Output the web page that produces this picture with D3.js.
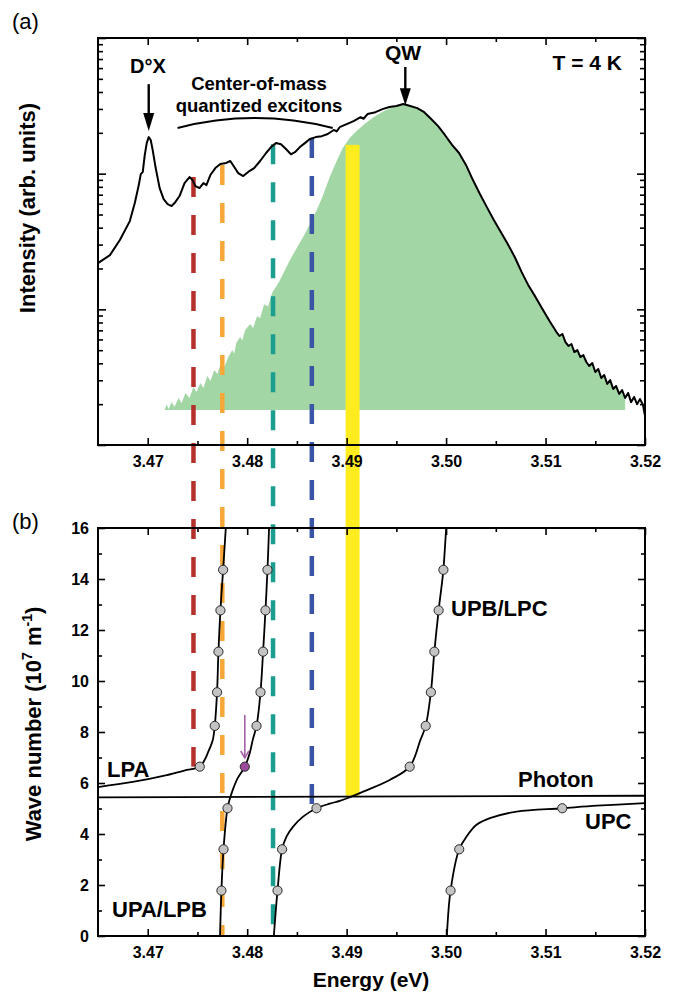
<!DOCTYPE html>
<html><head><meta charset="utf-8">
<script src="https://cdn.jsdelivr.net/npm/d3@7"></script>
<style>
body{margin:0;background:#fff}
text{font-family:"Liberation Sans",Arial,Helvetica,sans-serif}
</style></head>
<body><svg id="c" width="679" height="1003"></svg>
<script>
// ---------------- DATA ----------------
const energyTicks = [3.47, 3.48, 3.49, 3.50, 3.51, 3.52];
const energyMinor = [3.475, 3.485, 3.495, 3.505, 3.515];
const waveTicks = [0, 2, 4, 6, 8, 10, 12, 14, 16];
const waveMinor = [1, 3, 5, 7, 9, 11, 13, 15];

// (a) PL spectrum, intensity in arb. units (log axis)
const specE = [3.4650,3.4662,3.4672,3.4682,3.4687,3.4691,3.4693,3.4695,3.4697,3.4699,3.4701,3.4703,3.4705,3.4708,3.4712,3.4716,3.4720,3.4724,3.4727,3.4732,3.4737,3.4742,3.4745,3.4748,3.4752,3.4756,3.4759,3.4763,3.4768,3.4773,3.4779,3.4783,3.4787,3.4791,3.4796,3.4801,3.4807,3.4813,3.4819,3.4824,3.4829,3.4834,3.4839,3.4844,3.4848,3.4853,3.4858,3.4863,3.4869,3.4875,3.4881,3.4887,3.4890,3.4893,3.4900,3.4907,3.4914,3.4917,3.4921,3.4929,3.4936,3.4943,3.4950,3.4957,3.4964,3.4971,3.4978,3.4985,3.4992,3.4999,3.5006,3.5013,3.5020,3.5027,3.5034,3.5041,3.5048,3.5055,3.5062,3.5069,3.5076,3.5083,3.5090,3.5097,3.5104,
3.5111,3.5114,3.5117,3.5120,3.5123,3.5126,3.5129,3.5132,3.5135,3.5138,3.5141,3.5144,3.5147,3.5150,3.5153,3.5156,3.5159,3.5162,3.5165,3.5168,3.5171,3.5174,3.5177,3.5180,3.5183,3.5186,3.5189,3.5192,3.5195,3.5198,3.5200];
const specI = [21.9,25.1,32.4,44.7,60.7,82.4,99.3,102.8,137,168,186,177,149,110,78.3,65.0,59.7,57.7,60.7,68.4,85.3,94.4,89.7,81.0,78.3,85.3,82.4,97.7,110,118,120,124,112,101,96,103,110,124,142,157,168,165,152,139,144,157,168,180,186,189,196,210,205,220,232,244,261,254,275,284,299,310,315,326,315,304,284,253,224,192,163,142,116,89.7,70.8,56.7,45.5,37.1,30.3,24.3,18.8,14.9,12.3,10.0,8.20,
6.80,6.36,6.58,5.74,5.37,5.55,4.84,5.01,4.45,4.60,4.09,3.82,4.02,3.45,3.63,3.12,3.28,2.82,3.01,2.59,2.72,2.38,2.54,2.22,2.42,2.07,2.26,2.00,2.18,1.97,1.64];

// QW component (green), rising edge; the falling side follows the spectrum
const qwE = [3.4717,3.4719,3.4721,3.4724,3.4727,3.4731,3.4734,3.4738,3.4742,3.4746,3.4749,3.4753,3.4756,3.4760,3.4763,3.4767,3.4770,3.4774,3.4777,3.4781,3.4785,3.4787,3.4789,3.4793,3.4795,3.4798,3.4803,3.4806,3.4810,3.4813,3.4817,3.4821,3.4825,3.4832,3.4838,3.4843,3.4851,3.4858,3.4864,3.4870,3.4876,3.4883,3.4890,3.4896,3.4903,3.4910,3.4918,3.4927,3.4937,3.4947];
const qwI = [1.81,2.00,1.84,2.07,1.91,2.22,2.04,2.42,2.22,2.68,2.46,2.86,2.63,3.22,2.96,3.57,3.34,4.09,3.76,4.45,5.01,4.70,5.64,6.25,5.90,7.04,7.79,7.30,8.93,8.60,10.9,10.5,13.2,15.9,19.5,23.1,29.3,35.9,44.0,53.9,68.4,94.4,124,154,183,206,232,261,289,310];
const qwBase = 1.81;
const qwEnd = 3.5180;

// vertical markers: energy, top intensity, bottom wave number
const markE   = [3.4746, 3.4775, 3.4826, 3.4865];
const markTop = [94.4, 116, 165, 183];
const markBot = [6.64, 0, 0, 5.01];
const markCol = ["#b5302b", "#f7a738", "#1b9d8f", "#3a55a6"];
const barE = [3.4899, 3.4913];   // yellow band
const barTop = 163, barBot = 5.5;

// (b) dispersion branches (energy eV, wave number 1e7 m^-1)
const photonE = [3.465, 3.52];
const photonK = [5.44, 5.50];
const lpaE = [3.4650,3.46849,3.47191,3.47392,3.47523,3.47573,3.47604,3.47654,3.47674,3.47697,3.47711,3.47731,3.47758,3.47785];
const lpaK = [5.84,6.04,6.31,6.51,6.64,6.91,7.18,7.69,8.24,9.56,11.15,12.77,14.36,16];
const lpbE = [3.47727,3.47741,3.47762,3.47802,3.47822,3.47855,3.47906,3.47976,3.48026,3.48056,3.48094,3.48134,3.48160,3.48184,3.48204,3.48220];
const lpbK = [0,1.78,3.40,5.01,5.33,5.73,6.20,6.64,7.18,7.69,8.24,9.56,11.15,12.77,14.36,16];
const upbE = [3.48268,3.48305,3.48351,3.48395,3.48462,3.48562,3.48697,3.48831,3.48932,3.49032,3.49166,3.49433,3.49634,3.49742,3.49795,3.49847,3.49882,3.49925,3.49973,3.50001];
const upbK = [0,1.78,3.40,3.90,4.29,4.68,5.01,5.19,5.30,5.44,5.66,6.12,6.64,7.69,8.24,9.56,11.15,12.77,14.36,16];
const upcE = [3.50008,3.50045,3.50132,3.50206,3.50306,3.50441,3.50709,3.51168,3.51517,3.5200];
const upcK = [0,1.78,3.40,3.90,4.36,4.62,4.88,5.01,5.11,5.21];

// measured points (circles)
const dotE = [3.47523,3.47674,3.47697,3.47711,3.47731,3.47758,
              3.47741,3.47762,3.47802,3.48094,3.48134,3.48160,3.48184,3.48204,
              3.48305,3.48351,3.48697,3.49634,3.49795,3.49847,3.49882,3.49925,3.49973,
              3.50045,3.50132,3.51168];
const dotK = [6.64,8.24,9.56,11.15,12.77,14.36,
              1.78,3.40,5.01,8.24,9.56,11.15,12.77,14.36,
              1.78,3.40,5.01,6.64,8.24,9.56,11.15,12.77,14.36,
              1.78,3.40,5.01];
const purpleE = 3.47976, purpleK = 6.64;
const purpleArrowK = [8.67, 6.98];

// annotation anchors in data units
const dxArrow = {E: 3.4701, I: [457, 280, 206]};
const qwArrow = {E: 3.4959, I: [611, 427, 320]};
const bracket = {E: [3.4730, 3.48069, 3.4886], I: [217, 304, 217]};

// ---------------- SCALES ----------------
const svg = d3.select("#c");
const xTop = d3.scaleLinear().domain([3.465, 3.52]).range([98, 645]);
const yTop = d3.scaleLog().domain([1, 1000]).range([445, 38]);
const xBot = d3.scaleLinear().domain([3.465, 3.52]).range([98, 645]);
const yBot = d3.scaleLinear().domain([0, 16]).range([936, 528]);

const FONT = '"Liberation Sans",Arial,Helvetica,sans-serif';

// ---------------- PANEL (a) ----------------
const spec = specE.map((e, i) => [e, specI[i]]);
const qw = qwE.map((e, i) => [e, qwI[i]])
  .concat(spec.filter(d => d[0] > qwE[qwE.length - 1] && d[0] <= qwEnd));

svg.append("path")
  .datum(qw)
  .attr("fill", "#a3d6a5")
  .attr("d", d3.area().x(d => xTop(d[0])).y0(yTop(qwBase)).y1(d => yTop(d[1])));

// yellow band
svg.append("rect")
  .attr("x", xTop(barE[0])).attr("width", xTop(barE[1]) - xTop(barE[0]))
  .attr("y", yTop(barTop)).attr("height", yBot(barBot) - yTop(barTop))
  .attr("fill", "#ffec1f");

// dashed markers
markE.forEach((e, i) => {
  svg.append("line")
    .attr("x1", xTop(e)).attr("x2", xTop(e))
    .attr("y1", yTop(markTop[i])).attr("y2", yBot(markBot[i]))
    .attr("stroke", markCol[i]).attr("stroke-width", 4.5)
    .attr("stroke-dasharray", "20,18");
});

svg.append("path")
  .datum(spec)
  .attr("fill", "none").attr("stroke", "#000").attr("stroke-width", 2)
  .attr("stroke-linejoin", "round")
  .attr("d", d3.line().x(d => xTop(d[0])).y(d => yTop(d[1])));

// axes helper
function styleAxis(g) {
  g.select(".domain").remove();
  g.selectAll(".tick line").attr("stroke", "#000").attr("stroke-width", 1.6);
  g.selectAll("text").attr("font-family", FONT).attr("font-weight", "bold")
    .attr("font-size", 16).attr("fill", "#000");
}
function frame(x, y) {
  svg.append("rect")
    .attr("x", x.range()[0]).attr("y", y.range()[1])
    .attr("width", x.range()[1] - x.range()[0])
    .attr("height", y.range()[0] - y.range()[1])
    .attr("fill", "none").attr("stroke", "#000").attr("stroke-width", 2);
}
function xAxes(x, y) {
  const yb = y.range()[0], yt = y.range()[1];
  svg.append("g").attr("transform", `translate(0,${yb})`)
    .call(d3.axisBottom(x).tickValues(energyTicks).tickSize(-7).tickSizeOuter(0)
      .tickPadding(11).tickFormat(d3.format(".2f"))).call(styleAxis);
  svg.append("g").attr("transform", `translate(0,${yb})`)
    .call(d3.axisBottom(x).tickValues(energyMinor).tickSize(-4).tickSizeOuter(0).tickFormat("")).call(styleAxis);
  svg.append("g").attr("transform", `translate(0,${yt})`)
    .call(d3.axisTop(x).tickValues(energyTicks).tickSize(-7).tickSizeOuter(0).tickFormat("")).call(styleAxis);
  svg.append("g").attr("transform", `translate(0,${yt})`)
    .call(d3.axisTop(x).tickValues(energyMinor).tickSize(-4).tickSizeOuter(0).tickFormat("")).call(styleAxis);
}

// top panel axes
xAxes(xTop, yTop);
const logAll = yTop.ticks();
const logMajor = logAll.filter(v => Math.abs(Math.log10(v) - Math.round(Math.log10(v))) < 1e-9);
const logMinor = logAll.filter(v => !logMajor.includes(v));
[["L", 98], ["R", 645]].forEach(([s, xp]) => {
  const ax = s === "L" ? d3.axisLeft : d3.axisRight;
  svg.append("g").attr("transform", `translate(${xp},0)`)
    .call(ax(yTop).tickValues(logMajor).tickSize(-8).tickSizeOuter(0).tickFormat("")).call(styleAxis);
  svg.append("g").attr("transform", `translate(${xp},0)`)
    .call(ax(yTop).tickValues(logMinor).tickSize(-5).tickSizeOuter(0).tickFormat("")).call(styleAxis);
});
frame(xTop, yTop);

// annotations (a)
function arrow(x, yTail, yBase, yTip, col, w) {
  svg.append("line").attr("x1", x).attr("x2", x).attr("y1", yTail).attr("y2", yBase + 2)
    .attr("stroke", col).attr("stroke-width", w);
  svg.append("path").attr("d", `M${x - 5.5},${yBase}L${x + 5.5},${yBase}L${x},${yTip}Z`).attr("fill", col);
}
arrow(xTop(dxArrow.E), yTop(dxArrow.I[0]), yTop(dxArrow.I[1]), yTop(dxArrow.I[2]), "#000", 2.4);
arrow(xTop(qwArrow.E), yTop(qwArrow.I[0]), yTop(qwArrow.I[1]), yTop(qwArrow.I[2]), "#000", 2.4);

svg.append("path")
  .attr("d", `M${xTop(bracket.E[0])},${yTop(bracket.I[0])}Q${xTop(bracket.E[1])},${yTop(bracket.I[1])} ${xTop(bracket.E[2])},${yTop(bracket.I[2])}`)
  .attr("fill", "none").attr("stroke", "#000").attr("stroke-width", 2);

function label(txt, x, y, size, anchor, weight) {
  return svg.append("text").attr("x", x).attr("y", y).attr("font-size", size)
    .attr("text-anchor", anchor || "start").attr("font-weight", weight || "bold")
    .attr("font-family", FONT).attr("fill", "#000").text(txt);
}
label("D°X", 148, 73, 20, "middle");
label("QW", 403, 60, 21, "middle");
label("T = 4 K", 622, 70, 21, "end");
label("Center-of-mass", 259, 90, 18.5, "middle");
label("quantized excitons", 259, 112, 18.5, "middle");
label("(a)", 12, 29, 22, "start", "normal");
label("(b)", 12, 529, 22, "start", "normal");

svg.append("text").attr("transform", "translate(35,208) rotate(-90)")
  .attr("text-anchor", "middle").attr("font-size", 22).attr("font-weight", "bold")
  .attr("font-family", FONT).text("Intensity (arb. units)");

// ---------------- PANEL (b) ----------------
xAxes(xBot, yBot);
[["L", 98], ["R", 645]].forEach(([s, xp]) => {
  const ax = s === "L" ? d3.axisLeft : d3.axisRight;
  svg.append("g").attr("transform", `translate(${xp},0)`)
    .call(ax(yBot).tickValues(waveTicks).tickSize(-7).tickSizeOuter(0).tickPadding(9)
      .tickFormat(s === "L" ? d3.format("d") : "")).call(styleAxis);
  svg.append("g").attr("transform", `translate(${xp},0)`)
    .call(ax(yBot).tickValues(waveMinor).tickSize(-4).tickSizeOuter(0).tickFormat("")).call(styleAxis);
});
frame(xBot, yBot);

const curveLine = d3.line().x(d => xBot(d[0])).y(d => yBot(d[1])).curve(d3.curveCatmullRom.alpha(0.5));
const plainLine = d3.line().x(d => xBot(d[0])).y(d => yBot(d[1]));
const branches = [[lpaE, lpaK], [lpbE, lpbK], [upbE, upbK], [upcE, upcK]];
svg.append("path").datum(photonE.map((e, i) => [e, photonK[i]]))
  .attr("fill", "none").attr("stroke", "#000").attr("stroke-width", 1.8).attr("d", plainLine);
branches.forEach(([E, K]) => {
  svg.append("path").datum(E.map((e, i) => [e, K[i]]))
    .attr("fill", "none").attr("stroke", "#000").attr("stroke-width", 1.8).attr("d", curveLine);
});

svg.append("g").selectAll("circle").data(dotE.map((e, i) => [e, dotK[i]])).join("circle")
  .attr("cx", d => xBot(d[0])).attr("cy", d => yBot(d[1])).attr("r", 4.6)
  .attr("fill", "#c3c3c3").attr("stroke", "#2a2a2a").attr("stroke-width", 1);
svg.append("circle").attr("cx", xBot(purpleE)).attr("cy", yBot(purpleK)).attr("r", 4.6)
  .attr("fill", "#9c4a9d").attr("stroke", "#2a2a2a").attr("stroke-width", 1);

// purple arrow
const pax = xBot(purpleE), pay0 = yBot(purpleArrowK[0]), pay1 = yBot(purpleArrowK[1]);
svg.append("line").attr("x1", pax).attr("x2", pax).attr("y1", pay0).attr("y2", pay1)
  .attr("stroke", "#a660a8").attr("stroke-width", 1.6);
svg.append("path").attr("d", `M${pax - 4},${pay1 - 7}L${pax},${pay1}L${pax + 4},${pay1 - 7}`)
  .attr("fill", "none").attr("stroke", "#a660a8").attr("stroke-width", 1.6);

label("LPA", 107, 777, 22);
label("UPA/LPB", 112, 917, 22);
label("UPB/LPC", 451, 616, 22);
label("Photon", 518, 787, 22);
label("UPC", 585, 829, 22);

label("Energy (eV)", 371, 987, 21, "middle");
const yl = svg.append("text").attr("transform", "translate(41,724) rotate(-90)")
  .attr("text-anchor", "middle").attr("font-size", 22).attr("font-weight", "bold")
  .attr("font-family", FONT);
yl.append("tspan").text("Wave number (10");
yl.append("tspan").attr("dy", -9).attr("font-size", 14).text("7");
yl.append("tspan").attr("dy", 9).text(" m");
yl.append("tspan").attr("dy", -9).attr("font-size", 14).text("-1");
yl.append("tspan").attr("dy", 9).text(")");
</script>
</body></html>
